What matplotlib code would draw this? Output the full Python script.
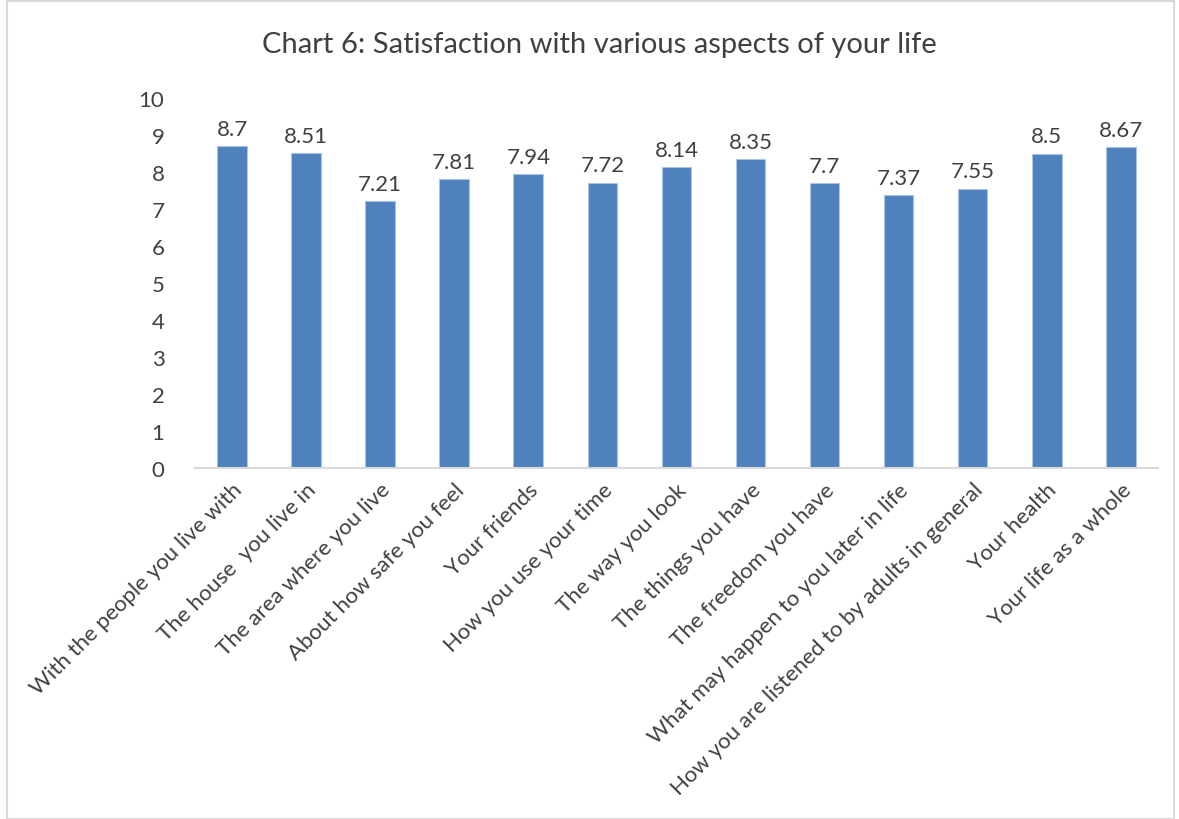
import numpy as np
import matplotlib.pyplot as plt
from matplotlib.patches import Rectangle

categories = ["With the people you live with", "The house  you live in",
              "The area where you live", "About how safe you feel",
              "Your friends", "How you use your time", "The way you look",
              "The things you have", "The freedom you have",
              "What may happen to you later in life",
              "How you are listened to by adults in general",
              "Your health", "Your life as a whole"]
values = [8.7, 8.51, 7.21, 7.81, 7.94, 7.72, 8.14, 8.35, 7.7, 7.37, 7.55, 8.5, 8.67]
value_labels = ["8.7", "8.51", "7.21", "7.81", "7.94", "7.72", "8.14", "8.35",
                "7.7", "7.37", "7.55", "8.5", "8.67"]

plt.rcParams['font.family'] = ['Lato', 'DejaVu Sans']
txt = '#404040'

fig = plt.figure(figsize=(11.79, 8.2), dpi=100)
ax = fig.add_axes([0.1654, 0.428, 0.8166, 0.451])

x = np.arange(len(categories))
bars = ax.bar(x, values, width=0.4, color='#4F81BD', edgecolor='#A9C4E6', linewidth=0.8)
for xi, v, lab in zip(x, values, value_labels):
    ax.text(xi, v + 0.2, lab, ha='center', va='bottom', fontsize=16, color=txt)

ax.set_xlim(-0.5, len(categories) - 0.5)
ax.set_ylim(0, 10)
ax.set_yticks(range(0, 11))
ax.set_xticks(x)
ax.set_xticklabels(categories, rotation=45, ha='right', rotation_mode='anchor',
                   fontsize=16, color=txt)
ax.tick_params(axis='y', length=0, labelsize=16, labelcolor=txt, pad=22)
ax.tick_params(axis='x', length=0, pad=8)
for s in ['top', 'right', 'left']:
    ax.spines[s].set_visible(False)
ax.spines['bottom'].set_color('#D9D9D9')
ax.spines['bottom'].set_linewidth(1.5)

fig.text(0.508, 0.945, "Chart 6: Satisfaction with various aspects of your life",
         ha='center', va='center', fontsize=21, color=txt)
fig.patches.append(Rectangle((0.006, 0.0), 0.99, 0.997, transform=fig.transFigure,
                             fill=False, edgecolor='#D9D9D9', linewidth=1.5))

fig.savefig('out.png', dpi=100)
